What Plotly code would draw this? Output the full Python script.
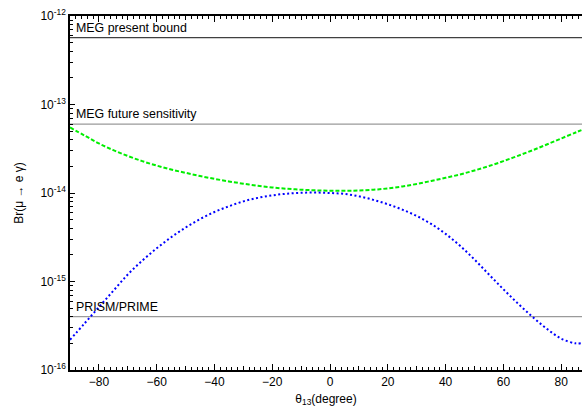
import numpy as np
import plotly.graph_objects as go

# mixing angle theta_13 in degrees
theta = [-90, -85, -80, -75, -70, -65, -60, -55, -50, -45, -40, -35, -30, -25,
         -20, -15, -10, -5, 0, 5, 10, 15, 20, 25, 30, 35, 40, 45, 50, 55, 60,
         65, 70, 75, 80, 85, 87]

# Br(mu -> e gamma) for the two branches
br_green = [5.50e-14, 4.47e-14, 3.63e-14, 3.05e-14, 2.62e-14, 2.29e-14, 2.04e-14,
            1.84e-14, 1.69e-14, 1.556e-14, 1.445e-14, 1.352e-14, 1.274e-14,
            1.208e-14, 1.156e-14, 1.117e-14, 1.089e-14, 1.072e-14, 1.062e-14,
            1.057e-14, 1.067e-14, 1.089e-14, 1.127e-14, 1.186e-14, 1.265e-14,
            1.368e-14, 1.486e-14, 1.622e-14, 1.799e-14, 2.018e-14, 2.29e-14,
            2.63e-14, 3.03e-14, 3.53e-14, 4.13e-14, 4.83e-14, 5.14e-14]
br_blue = [2.19e-16, 3.35e-16, 5.13e-16, 7.85e-16, 1.20e-15, 1.72e-15, 2.37e-15,
           3.16e-15, 4.07e-15, 5.07e-15, 6.10e-15, 7.08e-15, 8.04e-15, 8.81e-15,
           9.40e-15, 9.82e-15, 1.005e-14, 1.012e-14, 1.0e-14, 9.77e-15, 9.17e-15,
           8.37e-15, 7.46e-15, 6.49e-15, 5.50e-15, 4.47e-15, 3.45e-15, 2.53e-15,
           1.77e-15, 1.20e-15, 8.17e-16, 5.65e-16, 4.00e-16, 2.93e-16, 2.26e-16,
           2.00e-16, 2.01e-16]

# experimental bounds
bound_names = ["MEG present bound", "MEG future sensitivity", "PRISM/PRIME"]
bound_values = [5.7e-13, 6.0e-14, 4.0e-16]
bound_colors = ["#404040", "#9a9a9a", "#9a9a9a"]

y_tick_vals = [1e-16, 1e-15, 1e-14, 1e-13, 1e-12]
y_tick_text = ["10<sup>-16</sup>", "10<sup>-15</sup>", "10<sup>-14</sup>",
               "10<sup>-13</sup>", "10<sup>-12</sup>"]
x_tick_vals = [-80, -60, -40, -20, 0, 20, 40, 60, 80]

x_min, x_max = -90, 87.2

fig = go.Figure()

for name, val, col in zip(bound_names, bound_values, bound_colors):
    fig.add_trace(go.Scatter(x=[x_min, x_max], y=[val, val], mode="lines",
                             line=dict(color=col, width=1.2), hoverinfo="skip"))
    fig.add_annotation(x=x_min, y=np.log10(val), xref="x", yref="y",
                       text=name, showarrow=False, xanchor="left",
                       yanchor="bottom", xshift=4, yshift=1,
                       font=dict(size=12.4, color="#000000"))

fig.add_trace(go.Scatter(x=theta, y=br_green, mode="lines", line_shape="spline",
                         line=dict(color="#00ee00", width=2, dash="4px,2px")))
fig.add_trace(go.Scatter(x=theta, y=br_blue, mode="lines", line_shape="spline",
                         line=dict(color="#0000ff", width=2, dash="2px,2.5px")))

# invisible trace carrying the secondary x axis (ticks every 10 degrees)
fig.add_trace(go.Scatter(x=[x_min, x_max], y=[1e-16, 1e-16], xaxis="x2",
                         mode="lines", line=dict(width=0), hoverinfo="skip"))

fig.update_layout(
    width=582, height=414,
    margin=dict(l=70, r=0, t=16, b=44),
    plot_bgcolor="white", paper_bgcolor="white",
    showlegend=False,
    font=dict(family="Liberation Sans, Arial, sans-serif", size=12, color="black"),
    xaxis2=dict(overlaying="x", range=[x_min, x_max], side="bottom",
                dtick=10, tick0=0, ticks="inside", ticklen=4, tickcolor="black",
                showticklabels=False, showgrid=False, zeroline=False,
                showline=False, mirror="ticks"),
)

fig.layout.xaxis.update(
    range=[x_min, x_max], tickvals=x_tick_vals,
    ticks="inside", ticklen=6, tickwidth=1, tickcolor="black",
    showline=True, linecolor="black", linewidth=1.5, mirror="ticks",
    showgrid=False, zeroline=False,
    minor=dict(ticks="inside", ticklen=3, dtick=2, tick0=0, tickcolor="black"),
    title=dict(text="θ<sub>13</sub>(degree)", standoff=6, font=dict(size=12)),
    tickfont=dict(size=12),
)
fig.update_yaxes(
    type="log", range=[-16, -12],
    tickvals=y_tick_vals, ticktext=y_tick_text,
    ticks="inside", ticklen=5, tickwidth=1, tickcolor="black",
    showline=True, linecolor="black", linewidth=1.5, mirror=False,
    showgrid=False, zeroline=False,
    minor=dict(ticks="inside", ticklen=3, dtick="D1", tickcolor="black"),
    title=dict(text="Br(μ → e γ)", standoff=14, font=dict(size=12)),
    tickfont=dict(size=12),
)

fig.write_html("out.html")
